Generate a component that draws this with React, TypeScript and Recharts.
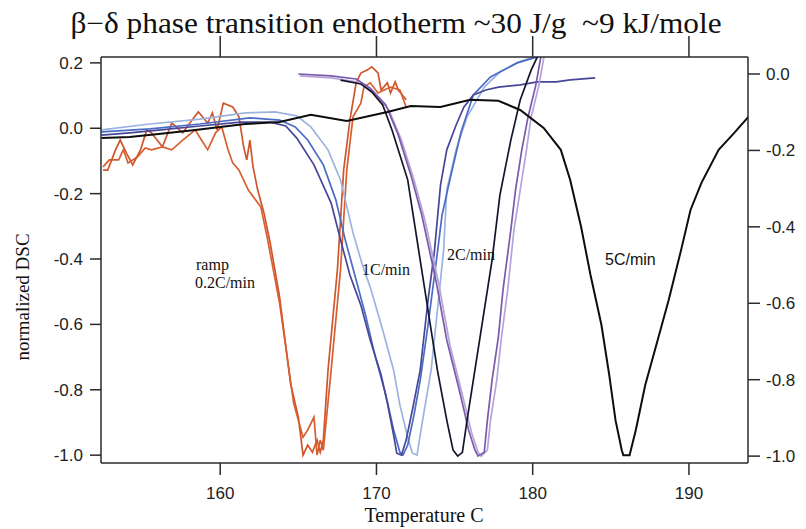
import { LineChart, Line, XAxis, YAxis } from "recharts";

// temperature (C), normalized DSC
const red1 = [
  [152.5, -0.128], [152.8, -0.128], [153.3, -0.066], [153.6, -0.036], [154.0, -0.076], [154.4, -0.112],
  [154.9, -0.066], [155.3, -0.005], [155.6, -0.014], [156.3, -0.057], [156.9, 0.016], [157.6, -0.014],
  [158.2, 0.025], [158.6, 0.05], [159.2, 0.016], [159.5, 0.047], [159.8, -0.005], [160.2, 0.077],
  [160.8, 0.065], [161.2, 0.035], [161.5, -0.057], [161.7, -0.097], [161.9, -0.036], [162.1, -0.118],
  [162.4, -0.189], [162.8, -0.259], [163.2, -0.351], [163.8, -0.516], [164.5, -0.78], [165.0, -0.884],
  [165.3, -1.0], [165.6, -0.969], [165.9, -0.991], [166.2, -0.954], [166.4, -0.991], [166.6, -0.954],
  [166.9, -0.74], [167.5, -0.433], [167.9, -0.128], [168.3, 0.025], [168.7, 0.139], [169.0, 0.169],
  [169.4, 0.178], [169.7, 0.188], [170.1, 0.169], [170.3, 0.117], [170.7, 0.139], [170.9, 0.108],
  [171.2, 0.142], [171.4, 0.117], [171.9, 0.087],
];
const red2 = [
  [152.5, -0.118], [152.9, -0.097], [153.5, -0.097], [153.8, -0.066], [154.1, -0.106], [154.7, -0.088],
  [155.2, -0.06], [155.6, -0.066], [156.3, -0.057], [156.9, -0.066], [157.6, -0.036], [158.4, -0.005],
  [158.8, -0.036], [159.2, -0.066], [159.7, -0.014], [160.1, 0.004], [160.5, -0.066], [160.8, -0.106],
  [161.2, -0.128], [161.8, -0.189], [162.6, -0.241], [163.0, -0.332], [163.8, -0.535], [164.7, -0.841],
  [165.3, -0.945], [165.6, -0.923], [166.0, -0.884], [166.2, -1.0], [166.4, -0.954], [166.6, -0.985],
  [167.1, -0.74], [167.7, -0.433], [168.1, -0.128], [168.5, 0.035], [169.0, 0.077], [169.2, 0.126],
  [169.6, 0.139], [170.1, 0.108], [170.5, 0.117], [170.9, 0.126], [171.5, 0.117], [171.9, 0.065],
];
const navy1 = [
  [152.4, -0.021], [154.2, -0.014], [156.2, -0.005], [158.7, 0.007], [161.3, 0.019], [163.2, 0.019],
  [164.2, 0.007], [164.9, -0.03], [166.0, -0.112], [167.1, -0.229], [167.7, -0.341], [168.3, -0.449],
  [169.0, -0.541], [169.6, -0.648], [170.3, -0.755], [170.7, -0.841], [171.1, -0.939], [171.3, -0.994],
  [171.6, -1.0], [171.9, -0.954], [172.3, -0.862], [172.8, -0.74], [173.3, -0.526], [173.7, -0.381],
  [174.1, -0.174], [174.5, -0.066], [175.1, 0.01], [175.6, 0.065], [176.2, 0.102], [177.0, 0.117],
  [177.8, 0.126], [179.2, 0.133], [180.3, 0.142], [181.5, 0.142], [182.4, 0.148], [184.0, 0.154],
];
const blue1 = [
  [152.4, -0.011], [155.5, -0.002], [158.7, 0.013], [161.9, 0.032], [163.8, 0.025], [164.8, 0.004],
  [165.6, -0.036], [166.6, -0.112], [167.4, -0.219], [168.0, -0.341], [168.7, -0.464], [169.3, -0.571],
  [169.9, -0.694], [170.6, -0.816], [171.1, -0.923], [171.5, -0.991], [171.7, -1.0], [172.0, -0.969],
  [172.4, -0.878], [172.8, -0.771], [173.3, -0.602], [173.8, -0.418], [174.2, -0.265], [174.7, -0.158],
  [175.4, -0.014], [176.2, 0.102], [177.3, 0.157], [179.0, 0.2], [180.3, 0.218], [181.2, 0.24],
];
const lightBlue1 = [
  [152.4, -0.005], [155.5, 0.013], [158.7, 0.028], [161.6, 0.047], [163.5, 0.05], [164.9, 0.038],
  [165.8, 0.004], [166.9, -0.066], [167.7, -0.158], [168.5, -0.32], [169.1, -0.418], [169.6, -0.486],
  [170.4, -0.617], [171.1, -0.74], [171.5, -0.847], [172.0, -0.945], [172.3, -0.994], [172.6, -1.0],
  [172.9, -0.908], [173.5, -0.74], [173.9, -0.557], [174.3, -0.372], [174.5, -0.189], [175.1, -0.066],
  [175.8, 0.035], [176.9, 0.126], [177.9, 0.172], [179.0, 0.2], [180.3, 0.224], [181.2, 0.245],
];
// 2C/min runs, read on the right axis
const dark2 = [
  [167.7, -0.016], [169.0, -0.026], [169.7, -0.047], [170.4, -0.081],
  [171.0, -0.147], [171.5, -0.212], [172.0, -0.277], [172.6, -0.435], [173.3, -0.618], [173.9, -0.775],
  [174.5, -0.906], [174.9, -0.984], [175.2, -1.0], [175.5, -0.99], [175.8, -0.906], [176.4, -0.749],
  [177.0, -0.592], [177.4, -0.487], [177.9, -0.317], [178.6, -0.173], [179.2, -0.068], [179.9, 0.01],
  [180.3, 0.045], [180.6, 0.076],
];
const purple2 = [
  [165.0, 0.0], [167.1, -0.005], [168.7, -0.013], [169.6, -0.037], [170.6, -0.081], [171.4, -0.16],
  [172.2, -0.264], [172.9, -0.369], [173.8, -0.539], [174.5, -0.696], [175.3, -0.827], [175.9, -0.932],
  [176.3, -0.984], [176.5, -1.0], [176.9, -0.99], [177.1, -0.906], [177.4, -0.801], [177.8, -0.689],
  [178.1, -0.565], [178.6, -0.408], [178.9, -0.304], [179.3, -0.199], [179.7, -0.113], [180.2, -0.029],
  [180.6, 0.063],
];
const lightPurple2 = [
  [165.1, -0.005], [167.1, -0.01], [168.8, -0.021], [169.8, -0.047], [170.8, -0.094], [171.6, -0.173],
  [172.4, -0.277], [173.1, -0.382], [174.0, -0.552], [174.7, -0.709], [175.5, -0.84], [176.1, -0.94],
  [176.5, -0.99], [176.7, -1.0], [177.1, -0.984], [177.3, -0.906], [177.7, -0.801], [178.0, -0.689],
  [178.4, -0.565], [178.8, -0.408], [179.2, -0.304], [179.6, -0.199], [179.9, -0.113], [180.4, -0.029],
  [180.8, 0.063],
];
const black5 = [
  [152.4, -0.03], [154.2, -0.027], [156.2, -0.017], [158.4, -0.005], [161.6, 0.013], [163.8, 0.019],
  [165.8, 0.041], [168.1, 0.022], [170.7, 0.05], [172.2, 0.068], [174.1, 0.065], [176.0, 0.087],
  [177.8, 0.084], [179.2, 0.056], [180.7, 0.001], [181.8, -0.066], [182.4, -0.158], [183.1, -0.302],
  [183.7, -0.449], [184.4, -0.602], [184.9, -0.755], [185.3, -0.893], [185.7, -0.985], [185.8, -1.0],
  [186.2, -1.0], [186.6, -0.923], [187.2, -0.786], [188.0, -0.648], [188.7, -0.526], [189.5, -0.372],
  [190.1, -0.25], [190.8, -0.167], [191.9, -0.066], [192.9, -0.014], [193.8, 0.035],
];

const xTicks = [160, 170, 180, 190];
const leftTicks = [-1, -0.8, -0.6, -0.4, -0.2, 0, 0.2];
const rightTicks = [-1, -0.8, -0.6, -0.4, -0.2, 0];

const toPts = (a: number[][]) => a.map(([t, v]) => ({ t, v }));

const axisColor = "#2a2a2a";
const tickFont = { fontFamily: "Liberation Sans, Arial, sans-serif", fontSize: 17, fill: "#222" };
const serif = "Liberation Serif, Times New Roman, serif";

const series = [
  { data: red1, color: "#d0552c", axis: "left" },
  { data: red2, color: "#d65f30", axis: "left" },
  { data: lightBlue1, color: "#9db3df", axis: "left" },
  { data: blue1, color: "#4a6cc4", axis: "left" },
  { data: navy1, color: "#47479a", axis: "left" },
  { data: lightPurple2, color: "#b5a4d8", axis: "right" },
  { data: purple2, color: "#7a5aac", axis: "right" },
  { data: dark2, color: "#15152a", axis: "right" },
  { data: black5, color: "#0d0d0d", axis: "left" },
];

const Note = ({ x, y, children, font = serif, size = 16 }: any) => (
  <div
    style={{
      position: "absolute",
      left: x,
      top: y,
      transform: "translateY(-50%)",
      fontFamily: font,
      fontSize: size,
      lineHeight: 1,
      color: "#111",
      whiteSpace: "nowrap",
    }}
  >
    {children}
  </div>
);

const App = () => {
  const fmt = (v: number) => v.toFixed(1);
  return (
    <div style={{ position: "absolute", left: 0, top: 0, width: 806, height: 529, background: "#fff" }}>
      <LineChart width={806} height={529} margin={{ top: 36, right: 0, bottom: 26, left: 41 }}>
        <XAxis
          dataKey="t"
          type="number"
          domain={[152.37, 193.78]}
          allowDataOverflow
          ticks={xTicks}
          interval={0}
          height={40}
          tickSize={12}
          tickMargin={12}
          tick={tickFont}
          stroke={axisColor}
          strokeWidth={1.5}
        />
        <XAxis
          xAxisId="top"
          orientation="top"
          dataKey="t"
          type="number"
          domain={[152.37, 193.78]}
          allowDataOverflow
          ticks={xTicks}
          interval={0}
          height={21}
          tickSize={21}
          tickFormatter={() => ""}
          stroke={axisColor}
          strokeWidth={1.5}
        />
        <YAxis
          yAxisId="left"
          type="number"
          domain={[-1.024, 0.218]}
          allowDataOverflow
          ticks={leftTicks}
          interval={0}
          width={60}
          tickSize={11}
          tickMargin={7}
          tickFormatter={fmt}
          tick={tickFont}
          stroke={axisColor}
          strokeWidth={1.5}
        />
        <YAxis
          yAxisId="right"
          orientation="right"
          type="number"
          domain={[-1.018, 0.0445]}
          allowDataOverflow
          ticks={rightTicks}
          interval={0}
          width={58}
          tickSize={12}
          tickMargin={6}
          tickFormatter={fmt}
          tick={tickFont}
          stroke={axisColor}
          strokeWidth={1.5}
        />
        {series.map((s, i) => (
          <Line
            key={i}
            data={toPts(s.data)}
            dataKey="v"
            yAxisId={s.axis}
            type="linear"
            stroke={s.color}
            strokeWidth={s.color === "#0d0d0d" ? 2 : 1.7}
            dot={false}
            activeDot={false}
            isAnimationActive={false}
          />
        ))}
      </LineChart>

      <div
        style={{
          position: "absolute",
          left: 396,
          top: 23,
          transform: "translate(-50%, -50%) scaleX(1.08)",
          fontFamily: serif,
          fontSize: 29,
          whiteSpace: "nowrap",
          color: "#111",
          lineHeight: 1,
        }}
      >
        β−δ phase transition endotherm ~30 J/g &nbsp;~9 kJ/mole
      </div>
      <div
        style={{
          position: "absolute",
          left: 22,
          top: 297,
          transform: "translate(-50%, -50%) rotate(-90deg)",
          fontFamily: serif,
          fontSize: 19,
          whiteSpace: "nowrap",
          color: "#111",
          lineHeight: 1,
        }}
      >
        normalized DSC
      </div>
      <div
        style={{
          position: "absolute",
          left: 424,
          top: 515,
          transform: "translate(-50%, -50%)",
          fontFamily: serif,
          fontSize: 20,
          whiteSpace: "nowrap",
          color: "#111",
          lineHeight: 1,
        }}
      >
        Temperature C
      </div>

      <Note x={196} y={265}>ramp</Note>
      <Note x={195} y={283}>0.2C/min</Note>
      <Note x={362} y={270}>1C/min</Note>
      <Note x={447} y={255}>2C/min</Note>
      <Note x={605} y={260} font="Liberation Sans, Arial, sans-serif">5C/min</Note>
    </div>
  );
};

export default App;
